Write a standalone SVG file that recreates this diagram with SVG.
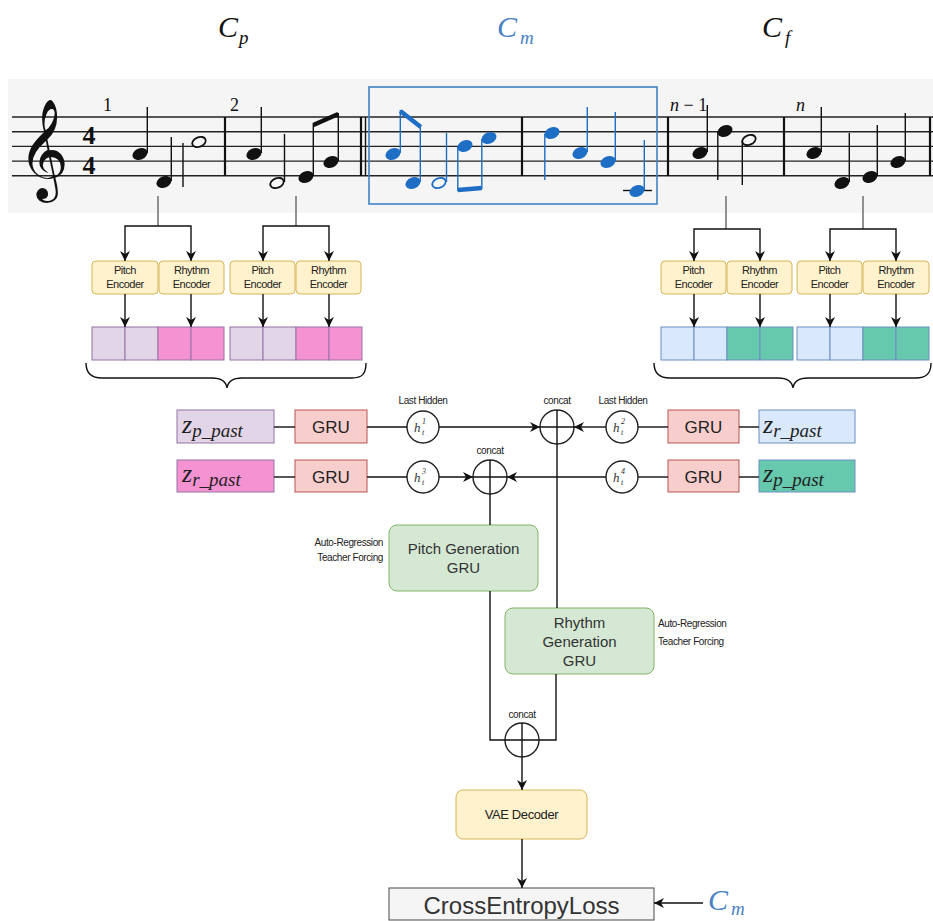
<svg xmlns="http://www.w3.org/2000/svg" width="933" height="921" viewBox="0 0 933 921">
<defs>
<style>
.title{font-family:"Liberation Serif",serif;font-style:italic;font-size:30px}
.sub{font-family:"Liberation Serif",serif;font-style:italic;font-size:19px}
.num{font-family:"Liberation Serif",serif;font-size:18px;fill:#111}
.staff{stroke:#222;stroke-width:1.4}
.bar{stroke:#111;stroke-width:2.2}
.stem{stroke:#111;stroke-width:1.4}
.bstem{stroke:#1f6ec6;stroke-width:1.4}
.nh{fill:#111}
.bnh{fill:#1f6ec6}
.oh{fill:#f6f6f6;stroke:#111;stroke-width:1.8}
.boh{fill:#f6f6f6;stroke:#1f6ec6;stroke-width:1.8}
.enc{fill:#fff2cc;stroke:#d6b656;stroke-width:1}
.enct{font-family:"Liberation Sans",Arial,sans-serif;font-size:11px;fill:#222;text-anchor:middle;letter-spacing:-0.5px}
.cp{fill:#e1d5e7;stroke:#9673a6}
.cr{fill:#f592d2;stroke:#9673a6}
.cb{fill:#dae8fc;stroke:#6c8ebf}
.cg{fill:#66c9ae;stroke:#6c8ebf}
.gru{fill:#f8cecc;stroke:#b85450;stroke-width:1}
.grut{font-family:"Liberation Sans",Arial,sans-serif;font-size:17px;fill:#222;text-anchor:middle}
.zt{font-family:"Liberation Serif",serif;font-style:italic;fill:#222}
.lbl{font-family:"Liberation Sans",Arial,sans-serif;font-size:10px;fill:#222;letter-spacing:-0.4px}
.gen{fill:#d5e8d4;stroke:#82b366;stroke-width:1}
.gent{font-family:"Liberation Sans",Arial,sans-serif;font-size:15px;fill:#333;text-anchor:middle}
.ln{fill:none;stroke:#111;stroke-width:1.4}
.gl{fill:none;stroke:#777;stroke-width:1.6}
.circ{fill:#fff;stroke:#222;stroke-width:1.4}
.ht{font-family:"Liberation Serif",serif;font-style:italic;fill:#333}
.ts{font-family:"Liberation Serif",serif;font-weight:bold;font-size:26px;fill:#111;text-anchor:middle}
</style>
<marker id="arr" viewBox="0 0 10 10" refX="10" refY="5" markerWidth="10" markerHeight="10" markerUnits="userSpaceOnUse" orient="auto">
<path d="M0,0 L10,5 L0,10 L3,5 z" fill="#111"/>
</marker>
</defs>
<rect width="933" height="921" fill="#fff"/>

<!-- titles -->
<g id="title-cp"><text x="218" y="37" class="title" fill="#111">C</text><text x="239" y="44" class="sub" fill="#111">p</text></g>
<g id="title-cm"><text x="497" y="37" class="title" fill="#4a82c2">C</text><text x="520" y="44" class="sub" fill="#4a82c2">m</text></g>
<g id="title-cf"><text x="762" y="37" class="title" fill="#111">C</text><text x="785" y="44" class="sub" fill="#111">f</text></g>

<!-- score -->
<g id="score">
<rect x="8" y="79" width="925" height="134" fill="#f5f5f5"/>
<line x1="12" y1="117" x2="933" y2="117" class="staff"/>
<line x1="12" y1="131.7" x2="933" y2="131.7" class="staff"/>
<line x1="12" y1="146.4" x2="933" y2="146.4" class="staff"/>
<line x1="12" y1="161.1" x2="933" y2="161.1" class="staff"/>
<line x1="12" y1="175.8" x2="933" y2="175.8" class="staff"/>
<text x="18" y="178" font-family="DejaVu Sans,sans-serif" font-size="86" fill="#111">𝄞</text>
<text x="89" y="144" class="ts">4</text>
<text x="89" y="174" class="ts">4</text>
<text x="103" y="111" class="num">1</text>
<text x="230" y="111" class="num">2</text>
<text x="670" y="111" class="num"><tspan font-style="italic">n</tspan> − 1</text>
<text x="796" y="111" class="num" font-style="italic">n</text>
<line x1="225" y1="117" x2="225" y2="176" class="bar"/>
<line x1="361" y1="117" x2="361" y2="176" class="bar"/>
<line x1="365.5" y1="117" x2="365.5" y2="176" stroke="#111" stroke-width="1.4"/>
<line x1="522" y1="117" x2="522" y2="176" class="bar"/>
<line x1="668" y1="117" x2="668" y2="176" class="bar"/>
<line x1="784" y1="117" x2="784" y2="176" class="bar"/>
<line x1="930" y1="117" x2="930" y2="176" class="bar"/>
<!-- measure 1 -->
<ellipse cx="140" cy="154" rx="7.8" ry="5.6" transform="rotate(-22 140 154)" class="nh"/>
<line x1="147.3" y1="153" x2="147.3" y2="107" class="stem"/>
<ellipse cx="164" cy="182" rx="7.8" ry="5.6" transform="rotate(-22 164 182)" class="nh"/>
<line x1="171.3" y1="181" x2="171.3" y2="137" class="stem"/>
<ellipse cx="199" cy="142" rx="7" ry="4.8" transform="rotate(-22 199 142)" class="oh"/>
<line x1="183" y1="143" x2="183" y2="187" class="stem"/>
<!-- measure 2 -->
<ellipse cx="254" cy="154" rx="7.8" ry="5.6" transform="rotate(-22 254 154)" class="nh"/>
<line x1="261.3" y1="153" x2="261.3" y2="107" class="stem"/>
<ellipse cx="277" cy="183" rx="7" ry="4.8" transform="rotate(-22 277 183)" class="oh"/>
<line x1="284.5" y1="182" x2="284.5" y2="134" class="stem"/>
<ellipse cx="306" cy="177" rx="7.8" ry="5.6" transform="rotate(-22 306 177)" class="nh"/>
<line x1="313.3" y1="176" x2="313.3" y2="124" class="stem"/>
<ellipse cx="331" cy="162" rx="7.8" ry="5.6" transform="rotate(-22 331 162)" class="nh"/>
<line x1="338.3" y1="161" x2="338.3" y2="113" class="stem"/>
<line x1="313.3" y1="125" x2="338.3" y2="114" stroke="#111" stroke-width="4.5"/>
<!-- measure 3 (blue) -->
<ellipse cx="393" cy="154" rx="7.8" ry="5.6" transform="rotate(-22 393 154)" class="bnh"/>
<line x1="400.3" y1="153" x2="400.3" y2="110" class="bstem"/>
<line x1="400.3" y1="111" x2="420.8" y2="127" stroke="#1f6ec6" stroke-width="4.5"/>
<ellipse cx="413" cy="183" rx="7.8" ry="5.6" transform="rotate(-22 413 183)" class="bnh"/>
<line x1="420.3" y1="182" x2="420.3" y2="127" class="bstem"/>
<ellipse cx="439" cy="183" rx="7" ry="4.8" transform="rotate(-22 439 183)" class="boh"/>
<line x1="446.5" y1="182" x2="446.5" y2="133" class="bstem"/>
<ellipse cx="465" cy="146" rx="7.8" ry="5.6" transform="rotate(-22 465 146)" class="bnh"/>
<line x1="457.8" y1="147" x2="457.8" y2="191" class="bstem"/>
<ellipse cx="489" cy="138" rx="7.8" ry="5.6" transform="rotate(-22 489 138)" class="bnh"/>
<line x1="481.8" y1="139" x2="481.8" y2="189" class="bstem"/>
<line x1="457.8" y1="190" x2="481.8" y2="188" stroke="#1f6ec6" stroke-width="4.5"/>
<!-- measure 4 (blue) -->
<ellipse cx="552" cy="133" rx="7.8" ry="5.6" transform="rotate(-22 552 133)" class="bnh"/>
<line x1="544.8" y1="134" x2="544.8" y2="180" class="bstem"/>
<ellipse cx="580" cy="153" rx="7.8" ry="5.6" transform="rotate(-22 580 153)" class="bnh"/>
<line x1="587.3" y1="152" x2="587.3" y2="107" class="bstem"/>
<ellipse cx="608" cy="162" rx="7.8" ry="5.6" transform="rotate(-22 608 162)" class="bnh"/>
<line x1="615.3" y1="161" x2="615.3" y2="112" class="bstem"/>
<line x1="623" y1="190.5" x2="652" y2="190.5" stroke="#111" stroke-width="1.4"/>
<ellipse cx="637" cy="191" rx="7.8" ry="5.6" transform="rotate(-22 637 191)" class="bnh"/>
<line x1="644.3" y1="190" x2="644.3" y2="140" class="bstem"/>
<rect x="369" y="87" width="288" height="117" fill="none" stroke="#3f82c2" stroke-width="1.6"/>
<!-- measure 5 -->
<ellipse cx="700" cy="153" rx="7.8" ry="5.6" transform="rotate(-22 700 153)" class="nh"/>
<line x1="707.3" y1="152" x2="707.3" y2="105" class="stem"/>
<ellipse cx="725" cy="131" rx="7.8" ry="5.6" transform="rotate(-22 725 131)" class="nh"/>
<line x1="717.8" y1="132" x2="717.8" y2="180" class="stem"/>
<ellipse cx="749" cy="140" rx="7" ry="4.8" transform="rotate(-22 749 140)" class="oh"/>
<line x1="742.3" y1="141" x2="742.3" y2="185" class="stem"/>
<!-- measure 6 -->
<ellipse cx="814" cy="153" rx="7.8" ry="5.6" transform="rotate(-22 814 153)" class="nh"/>
<line x1="821.3" y1="152" x2="821.3" y2="107" class="stem"/>
<ellipse cx="842" cy="183" rx="7.8" ry="5.6" transform="rotate(-22 842 183)" class="nh"/>
<line x1="849.3" y1="182" x2="849.3" y2="133" class="stem"/>
<ellipse cx="870" cy="177" rx="7.8" ry="5.6" transform="rotate(-22 870 177)" class="nh"/>
<line x1="877.3" y1="176" x2="877.3" y2="125" class="stem"/>
<ellipse cx="898" cy="162" rx="7.8" ry="5.6" transform="rotate(-22 898 162)" class="nh"/>
<line x1="905.3" y1="161" x2="905.3" y2="113" class="stem"/>
</g>

<!-- encoders -->
<g id="enc-p1"><rect x="92" y="261" width="66" height="33" rx="4" class="enc"/><text x="125" y="274" class="enct">Pitch</text><text x="125" y="288" class="enct">Encoder</text></g>
<g id="enc-r1"><rect x="159" y="261" width="65" height="33" rx="4" class="enc"/><text x="191.5" y="274" class="enct">Rhythm</text><text x="191.5" y="288" class="enct">Encoder</text></g>
<g id="enc-p2"><rect x="230" y="261" width="65" height="33" rx="4" class="enc"/><text x="262.5" y="274" class="enct">Pitch</text><text x="262.5" y="288" class="enct">Encoder</text></g>
<g id="enc-r2"><rect x="296" y="261" width="65" height="33" rx="4" class="enc"/><text x="328.5" y="274" class="enct">Rhythm</text><text x="328.5" y="288" class="enct">Encoder</text></g>
<g id="enc-p3"><rect x="661" y="261" width="65" height="33" rx="4" class="enc"/><text x="693.5" y="274" class="enct">Pitch</text><text x="693.5" y="288" class="enct">Encoder</text></g>
<g id="enc-r3"><rect x="727" y="261" width="65" height="33" rx="4" class="enc"/><text x="759.5" y="274" class="enct">Rhythm</text><text x="759.5" y="288" class="enct">Encoder</text></g>
<g id="enc-p4"><rect x="797" y="261" width="65" height="33" rx="4" class="enc"/><text x="829.5" y="274" class="enct">Pitch</text><text x="829.5" y="288" class="enct">Encoder</text></g>
<g id="enc-r4"><rect x="863" y="261" width="66" height="33" rx="4" class="enc"/><text x="896" y="274" class="enct">Rhythm</text><text x="896" y="288" class="enct">Encoder</text></g>

<!-- latent cells -->
<g id="cells-past">
<rect x="92" y="327" width="33" height="33" class="cp"/><rect x="125" y="327" width="33" height="33" class="cp"/>
<rect x="158" y="327" width="33" height="33" class="cr"/><rect x="191" y="327" width="33" height="33" class="cr"/>
<rect x="230" y="327" width="33" height="33" class="cp"/><rect x="263" y="327" width="33" height="33" class="cp"/>
<rect x="296" y="327" width="33" height="33" class="cr"/><rect x="329" y="327" width="33" height="33" class="cr"/>
</g>
<g id="cells-future">
<rect x="661" y="327" width="33" height="33" class="cb"/><rect x="694" y="327" width="33" height="33" class="cb"/>
<rect x="727" y="327" width="33" height="33" class="cg"/><rect x="760" y="327" width="33" height="33" class="cg"/>
<rect x="797" y="327" width="33" height="33" class="cb"/><rect x="830" y="327" width="33" height="33" class="cb"/>
<rect x="863" y="327" width="33" height="33" class="cg"/><rect x="896" y="327" width="33" height="33" class="cg"/>
</g>
<g id="braces">
<path d="M86,363 C86,374 92,378 102,378 L212,378 C220,378 226,381 227,388 C228,381 234,378 242,378 L352,378 C362,378 366,374 366,363" class="ln"/>
<path d="M654,363 C654,374 660,378 670,378 L778,378 C786,378 792,381 793,388 C794,381 800,378 808,378 L916,378 C926,378 931,374 931,363" class="ln"/>
</g>

<!-- row nodes -->
<g id="zp-past-l"><rect x="177" y="410" width="97" height="33" class="cp"/><text x="182" y="433" class="zt" font-size="26">z<tspan font-size="19" dy="4">p_past</tspan></text></g>
<g id="zr-past-l"><rect x="177" y="460" width="97" height="32" class="cr"/><text x="182" y="482" class="zt" font-size="26">z<tspan font-size="19" dy="4">r_past</tspan></text></g>
<g id="gru1"><rect x="295" y="410" width="72" height="33" class="gru"/><text x="331" y="433" class="grut">GRU</text></g>
<g id="gru3"><rect x="295" y="460" width="72" height="32" class="gru"/><text x="331" y="482.5" class="grut">GRU</text></g>
<g id="gru2"><rect x="668" y="410" width="71" height="33" class="gru"/><text x="703.5" y="433" class="grut">GRU</text></g>
<g id="gru4"><rect x="668" y="460" width="71" height="32" class="gru"/><text x="703.5" y="482.5" class="grut">GRU</text></g>
<g id="zr-past-r"><rect x="759" y="410" width="96" height="33" class="cb"/><text x="763" y="433" class="zt" font-size="26">z<tspan font-size="19" dy="4">r_past</tspan></text></g>
<g id="zp-past-r"><rect x="759" y="460" width="96" height="32" class="cg"/><text x="763" y="482" class="zt" font-size="26">z<tspan font-size="19" dy="4">p_past</tspan></text></g>

<g id="h1"><circle cx="423" cy="427" r="16" class="circ"/><text x="414" y="432" class="ht" font-size="13">h</text><text x="422" y="424" class="ht" font-size="8" font-style="normal">1</text><text x="422" y="435" class="ht" font-size="8">t</text></g>
<g id="h2"><circle cx="622" cy="427" r="16" class="circ"/><text x="613" y="432" class="ht" font-size="13">h</text><text x="621" y="424" class="ht" font-size="8" font-style="normal">2</text><text x="621" y="435" class="ht" font-size="8">t</text></g>
<g id="h3"><circle cx="423" cy="477" r="16" class="circ"/><text x="414" y="482" class="ht" font-size="13">h</text><text x="422" y="474" class="ht" font-size="8" font-style="normal">3</text><text x="422" y="485" class="ht" font-size="8">t</text></g>
<g id="h4"><circle cx="622" cy="477" r="16" class="circ"/><text x="613" y="482" class="ht" font-size="13">h</text><text x="621" y="474" class="ht" font-size="8" font-style="normal">4</text><text x="621" y="485" class="ht" font-size="8">t</text></g>
<text x="423" y="404" class="lbl" text-anchor="middle">Last Hidden</text>
<text x="623" y="404" class="lbl" text-anchor="middle">Last Hidden</text>

<g id="concat1"><circle cx="557" cy="427" r="17" class="circ"/><line x1="540" y1="427" x2="574" y2="427" class="ln"/><line x1="557" y1="410" x2="557" y2="444" class="ln"/><text x="557" y="404" class="lbl" text-anchor="middle">concat</text></g>
<g id="concat2"><circle cx="490" cy="477" r="17" class="circ"/><line x1="473" y1="477" x2="507" y2="477" class="ln"/><line x1="490" y1="460" x2="490" y2="494" class="ln"/><text x="490" y="454" class="lbl" text-anchor="middle">concat</text></g>

<g id="pitch-gen"><rect x="389" y="525" width="149" height="66" rx="8" class="gen"/><text x="463.5" y="554" class="gent">Pitch Generation</text><text x="463.5" y="573" class="gent">GRU</text></g>
<g id="rhythm-gen"><rect x="505" y="608" width="149" height="66" rx="8" class="gen"/><text x="579.5" y="628" class="gent">Rhythm</text><text x="579.5" y="647" class="gent">Generation</text><text x="579.5" y="666" class="gent">GRU</text></g>
<text x="383" y="546" class="lbl" text-anchor="end">Auto-Regression</text>
<text x="383" y="561" class="lbl" text-anchor="end">Teacher Forcing</text>
<text x="658" y="627" class="lbl">Auto-Regression</text>
<text x="658" y="645" class="lbl">Teacher Forcing</text>

<g id="concat3"><circle cx="522" cy="740" r="17" fill="none" stroke="#222" stroke-width="1.4"/><text x="522" y="718" class="lbl" text-anchor="middle">concat</text></g>
<g id="vae"><rect x="456" y="790" width="131" height="49" rx="7" class="enc"/><text x="521.5" y="819" font-family="Liberation Sans,Arial,sans-serif" font-size="13" fill="#222" text-anchor="middle" letter-spacing="-0.4">VAE Decoder</text></g>
<g id="loss"><rect x="389" y="888" width="265" height="32" fill="#f5f5f5" stroke="#666" stroke-width="1.2"/><text x="521.5" y="914" font-family="Liberation Sans,Arial,sans-serif" font-size="24" fill="#333" text-anchor="middle">CrossEntropyLoss</text></g>
<g id="cm-target"><text x="708" y="910" class="title" fill="#4a82c2">C</text><text x="731" y="915" class="sub" fill="#4a82c2">m</text></g>

<!-- connectors -->
<g id="connectors">
<path d="M158,196 V226" class="gl"/>
<path d="M158,226 H125 V261" class="ln" marker-end="url(#arr)"/>
<path d="M158,226 H191 V261" class="ln" marker-end="url(#arr)"/>
<path d="M296,196 V226" class="gl"/>
<path d="M296,226 H263 V261" class="ln" marker-end="url(#arr)"/>
<path d="M296,226 H329 V261" class="ln" marker-end="url(#arr)"/>
<path d="M726,196 V229" class="gl"/>
<path d="M726,229 H694 V261" class="ln" marker-end="url(#arr)"/>
<path d="M726,229 H760 V261" class="ln" marker-end="url(#arr)"/>
<path d="M863,196 V229" class="gl"/>
<path d="M863,229 H830 V261" class="ln" marker-end="url(#arr)"/>
<path d="M863,229 H896 V261" class="ln" marker-end="url(#arr)"/>
<path d="M125,294 V327" class="ln" marker-end="url(#arr)"/>
<path d="M191,294 V327" class="ln" marker-end="url(#arr)"/>
<path d="M263,294 V327" class="ln" marker-end="url(#arr)"/>
<path d="M329,294 V327" class="ln" marker-end="url(#arr)"/>
<path d="M694,294 V327" class="ln" marker-end="url(#arr)"/>
<path d="M760,294 V327" class="ln" marker-end="url(#arr)"/>
<path d="M830,294 V327" class="ln" marker-end="url(#arr)"/>
<path d="M896,294 V327" class="ln" marker-end="url(#arr)"/>
<path d="M274,427 H295" class="ln"/>
<path d="M367,427 H407" class="ln"/>
<path d="M439,427 H540" class="ln" marker-end="url(#arr)"/>
<path d="M606,427 H574" class="ln" marker-end="url(#arr)"/>
<path d="M638,427 H668" class="ln"/>
<path d="M739,427 H759" class="ln"/>
<path d="M274,477 H295" class="ln"/>
<path d="M367,477 H407" class="ln"/>
<path d="M439,477 H473" class="ln" marker-end="url(#arr)"/>
<path d="M606,477 H507" class="ln" marker-end="url(#arr)"/>
<path d="M638,477 H668" class="ln"/>
<path d="M739,477 H759" class="ln"/>
<path d="M557,444 V608" class="ln"/>
<path d="M490,494 V525" class="ln"/>
<path d="M490,591 V740 H556 V674" class="ln"/>
<path d="M522,723 V790" class="ln" marker-end="url(#arr)"/>
<path d="M522,839 V888" class="ln" marker-end="url(#arr)"/>
<path d="M703,903 H654" class="ln" marker-end="url(#arr)"/>
</g>
</svg>
